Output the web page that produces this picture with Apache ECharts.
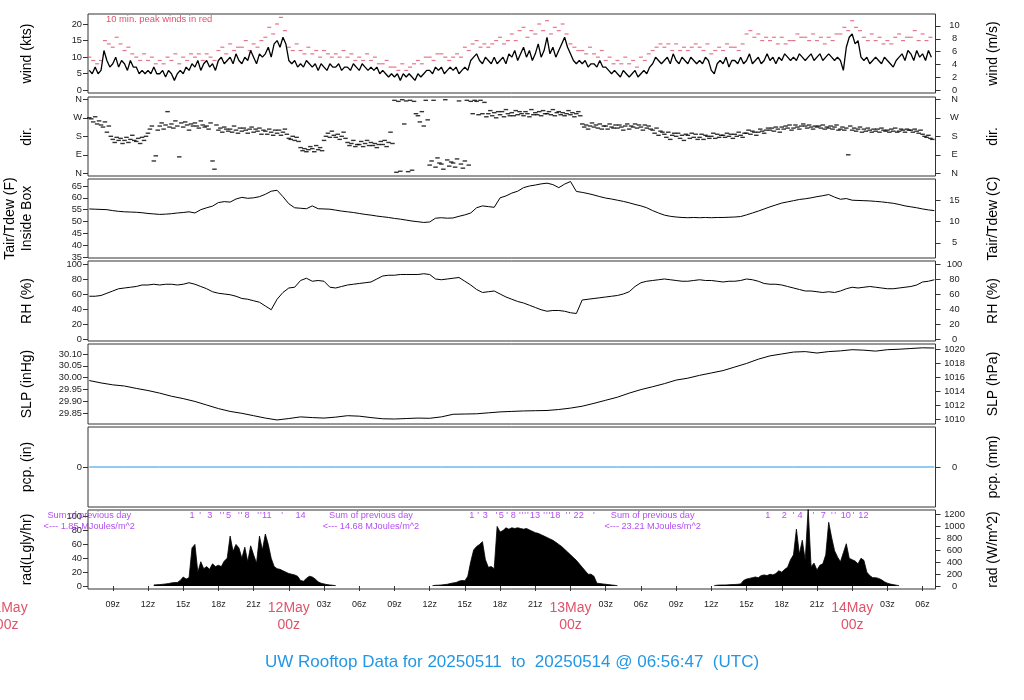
<!DOCTYPE html>
<html><head><meta charset="utf-8">
<script src="https://cdn.jsdelivr.net/npm/echarts@6/dist/echarts.min.js"></script>
<style>html,body{margin:0;padding:0;background:#fff}#c{width:1024px;height:700px}</style>
</head><body><div id="c"></div>
<script>
// ---- time axis: hours since 2025-05-11 00:00 UTC ----
const xMin = 6.89, xMax = 79.1;
const hourTicks = [9,12,15,18,21,24,27,30,33,36,39,42,45,48,51,54,57,60,63,66,69,72,75,78];
const dayNames = ['11May','12May','13May','14May'];

// ---- wind mean (kts), every 15 min from 07:00 May 11 ----
const windStart = 7, windStep = 0.25;
const windKts = [
6,5,7,5, 6,12,9,7, 8,10,7,9, 8,6,9,7, 7,5,6,5, 6,5,7,5, 5,6,4,6, 5,3,5,6,
5,7,6,8, 7,9,6,8, 9,7,8,6, 9,10,8,9, 10,8,11,9, 8,10,9,12, 10,8,11,10, 11,13,10,14,
15,13,16,14, 9,8,9,7, 8,7,9,8, 7,8,6,8, 7,6,8,7, 7,8,6,7, 7,6,8,7, 6,8,7,6,
7,6,7,5, 6,5,4,5, 4,5,3,5, 4,5,4,3, 5,4,5,6, 6,5,7,6, 7,5,6,7, 6,7,5,6,
7,6,9,10, 11,9,8,10, 9,8,10,8, 9,10,8,11, 10,12,9,11, 13,10,12,9, 11,14,10,12, 16,11,13,10,
12,14,16,13, 11,9,8,9, 8,9,7,8, 8,7,9,7, 7,6,5,6, 5,4,6,5, 4,5,6,4, 5,6,5,7,
8,10,9,8, 9,10,8,11, 9,8,10,9, 8,10,9,8, 9,8,10,9, 6,5,8,9, 8,10,7,9, 9,8,10,8,
9,11,8,9, 10,8,9,11, 9,10,8,10, 9,11,10,9, 10,9,11,10, 9,10,11,9, 10,11,9,10, 11,10,9,10,
9,6,13,16, 17,14,15,10, 9,10,8,9, 10,9,8,10, 9,8,7,9, 10,11,9,12, 11,9,12,10, 11,9,12,10
];

// ---- 10-min peak wind (kts), every 20 min from 07:00 May 11 ----
const peakStart = 7, peakStep = 1/3;
const peakKts = [
10,9,8, 9,15,14, 13,16,14, 12,13,11, 10,9,11, 9,10,8, 9,8,10, 9,11,8,
10,9,11, 10,11,9, 11,10,9, 12,13,11, 14,12,13, 13,15,12, 14,13,15, 16,19,17,
20,22,18, 13,12,14, 12,11,13, 11,12,10, 12,11,10, 11,10,12, 10,11,9, 10,9,11,
9,10,8, 8,9,7, 7,6,8, 6,7,8, 9,8,10, 10,9,11, 11,10,9, 10,11,10,
13,12,14, 15,13,14, 13,14,15, 16,14,15, 17,15,18, 19,16,18, 17,20,18, 21,17,19,
18,20,17, 14,13,12, 12,11,13, 11,10,12, 9,10,8, 9,8,10, 8,9,7, 10,9,11,
12,13,14, 13,14,12, 14,12,13, 12,13,14, 13,12,14, 11,12,13, 12,14,13, 13,12,14,
17,18,16, 17,15,16, 15,16,14, 16,14,15, 15,17,16, 16,15,17, 15,16,14, 16,15,17,
17,19,18, 21,19,18, 16,15,17, 15,16,14, 15,14,16, 17,15,16, 16,18,15, 17,15,16
];

// ---- wind direction (deg), every 10 min from 07:00 May 11 ----
const dirStart = 7, dirStep = 1/6;
const dirDeg = [
270,265,250,275,240,255, 235,225,250,200,230,180, 165,150,175,160,170,145, 160,175,150,165,185,160,
155,170,145,175,160,180, 195,215,230,60,85,210, 230,245,215,235,300,225, 240,220,255,230,80,245,
225,250,235,210,240,230, 245,230,220,255,235,225, 230,215,245,60,20,235, 210,220,200,225,215,205,
215,200,230,210,195,220, 205,220,210,195,215,225, 200,215,205,220,190,210, 205,190,215,200,185,210,
195,210,185,200,215,190, 170,165,180,160,175,155, 125,110,120,105,115,130, 120,105,135,115,125,110,
160,180,195,175,205,185, 175,190,165,180,200,170, 150,135,145,160,130,140, 140,155,130,145,160,135,
150,135,145,125,140,155, 140,160,130,150,200,145, 355,5,350,10,358,240, 352,8,355,15,350,290,
280,250,300,230,355,260, 40,60,355,30,75,50, 45,20,358,65,35,55, 50,30,70,352,45,25,
60,355,40,350,290,355, 350,285,355,290,345,275, 290,305,280,295,270,300, 285,300,275,310,290,280,
295,280,305,285,300,290, 280,300,290,275,310,285, 295,285,300,280,305,290, 290,300,285,310,280,295,
300,285,295,280,290,305, 285,295,275,290,300,280, 240,225,235,215,230,245, 225,235,220,240,215,230,
230,215,240,225,220,235, 220,235,225,210,230,240, 215,230,225,240,220,235, 225,210,235,220,230,215,
210,195,220,185,205,200, 190,175,200,165,185,195, 180,195,170,185,160,190, 185,170,195,175,190,165,
175,190,165,185,180,170, 180,195,170,190,175,185, 185,175,195,180,190,170, 190,180,200,185,175,195,
195,210,190,205,200,185, 200,215,205,195,210,220, 210,220,205,225,215,200, 225,215,230,220,235,210,
220,235,225,215,230,240, 230,220,235,225,215,230, 225,230,220,235,215,225, 220,230,215,225,235,210,
215,225,210,220,90,230, 210,220,205,215,225,200, 215,205,220,210,200,215, 205,215,200,220,210,205,
210,200,215,205,220,200, 205,215,210,200,215,210, 210,200,215,205,195,210, 190,180,175,185,170,165
];

// ---- inside-box air temperature (F), every 30 min from 07:00 May 11 ----
const tairStart = 7, tairStep = 0.5;
const tairF = [
55.3,55.2,55.1,55.0,54.6,54.3,54.1,54.0,53.9,53.7,53.4,53.2,53.0,53.1,53.3,53.6,53.8,54.1,53.6,55.0,
55.8,56.5,58.0,58.4,58.2,59.5,60.2,59.8,60.0,60.5,61.5,62.8,63.2,60.5,
57.5,55.8,55.6,55.4,56.6,55.4,55.3,55.2,54.8,54.4,54.1,53.8,53.4,53.0,52.7,52.3,52.0,51.7,51.3,51.0,
50.6,50.2,49.9,49.6,49.8,51.4,51.6,51.4,51.5,52.2,52.8,53.6,55.8,56.6,56.3,56.0,60.0,60.8,62.0,62.8,
64.3,65.0,65.4,65.9,66.2,65.6,64.3,65.8,
66.9,62.7,62.3,61.8,61.2,60.5,59.9,59.5,59.0,58.5,57.9,57.2,56.6,55.8,54.6,53.6,52.7,52.2,51.9,51.7,
51.6,51.7,51.6,51.7,51.6,51.7,51.7,51.8,51.9,52.1,52.8,53.6,54.4,55.3,56.2,57.0,57.8,58.3,58.8,59.3,
59.6,60.0,60.5,60.9,61.4,60.3,59.4,59.7,
59.0,58.9,58.8,58.7,58.5,58.3,58.0,57.7,57.2,56.6,56.2,55.8,55.3,54.9,54.6
];

// ---- relative humidity (%), every 30 min from 07:00 May 11 ----
const rhStart = 7, rhStep = 0.5;
const rhPct = [
57,57,58,61,64,67,68,69,70,72,72,73,72,73,73,72,73,75,73,70,67,63,61,60,59,57,54,53,51,49,44,39,53,62,
68,69,78,81,77,78,77,69,68,70,72,73,74,75,76,80,84,85,85,86,86,86,86,87,86,80,79,80,81,82,77,72,66,62,
63,64,60,56,53,50,48,45,42,39,37,38,38,37,
35,34,52,53,54,55,56,57,58,60,63,70,75,77,78,79,80,79,78,77,77,78,79,78,78,77,76,77,77,78,80,79,77,74,
73,73,72,70,68,66,64,64,63,62,63,62,64,67,
69,68,69,70,69,68,67,67,68,69,70,72,76,77,79
];

// ---- sea level pressure (inHg), hourly from 07:00 May 11 ----
const slpStart = 7, slpStep = 1;
const slpInHg = [
29.988,29.978,29.970,29.965,29.955,29.946,29.935,29.922,29.912,29.900,29.885,29.870,29.858,29.850,29.840,29.830,
29.822,29.828,29.835,29.832,29.830,29.834,29.840,29.838,29.832,29.827,29.826,29.828,29.830,29.829,29.835,29.846,
29.847,29.848,29.852,29.856,29.858,29.860,29.861,29.862,29.866,29.872,29.880,29.892,29.905,29.918,29.935,29.950,
29.962,29.975,29.990,29.998,30.010,30.020,30.030,30.045,30.060,30.078,30.092,30.100,30.108,30.110,30.104,30.110,
30.113,30.118,30.116,30.112,30.118,30.120,30.123,30.126,30.125
];

// ---- precipitation (in), every 3 h from 07:00 May 11 ----
const pcpStart = 7, pcpStep = 3;
const pcpIn = [0,0,0,0,0,0,0,0,0,0,0,0,0,0,0,0,0,0,0,0,0,0,0,0,0];

// ---- solar radiation (Langley/hr), every 15 min during daylight ----
const radStep = 0.25;
const rad1Start = 12.5;
const rad1 = [1.5,1.8,2,2.5,3,3.5,4.5,5,5,8,13,10,12,55,60,20,35,25,28,24,32,28,30,28,36,40,72,50,60,55,
40,56,35,58,45,33,72,52,75,60,40,28,25,24,22,20,18,17,16,14,8,7,11,14,13,10,6,4,3,2,1.5,1,0.5];
const rad2Start = 36.25;
const rad2 = [0.5,1,1.2,1.5,2,2.5,3.5,4.5,5,7,8,7.5,14,35,52,57,60,64,38,27,28,25,86,78,80,84,82,84,83,84,
83,82,83,81,79,77,76,74,72,70,68,66,63,60,57,53,49,45,41,37,32,27,22,17,17,14,4,3.5,3,2.5,2,1.5,1,0.5];
const rad3Start = 60.25;
const rad3 = [0.5,1.2,1.4,1.5,1.5,1.8,2,2.2,2.5,3,8,10,11,12,13,12,15,16,15,17,16,18,22,20,24,27,38,45,82,46,
66,37,112,28,33,23,30,32,45,92,70,51,42,35,48,61,40,38,36,32,40,37,20,15,12,12,11,9,6,4,2.8,2,1.2,0.5];

// ---- cumulative radiation markers (MJ/m^2) ----
const cumHours = [15.76,16.44,17.27,18.18,18.43,18.86,19.74,19.97,20.44,21.38,21.61,22.12,23.43,25.0,
  39.60,40.14,40.74,41.71,42.10,42.61,43.12,43.69,43.92,44.14,44.37,44.97,45.76,45.99,46.22,46.70,47.67,47.90,48.70,50.00,
  64.81,66.22,66.99,67.56,68.70,69.55,70.27,70.55,71.46,72.11,72.96];
const cumLabels = ['1',"'",'3',"'","'",'5',"'","'",'8',"'","'",'11',"'",'14',
  '1',"'",'3',"'",'5',"'",'8',"'","'","'","'",'13',"'","'","'",'18',"'","'",'22',"'",
  '1','2',"'",'4',"'",'7',"'","'",'10',"'",'12'];
const sumHours = [7, 31, 55];
const sumValues = ['1.85', '14.68', '23.21'];

// ---------------------------------------------------------------
const FONT = '"Liberation Sans", Arial, Helvetica, sans-serif';
const RED = '#DF536B', BLUE = '#2297E6', PURPLE = '#A020F0';
const pairs = (start, step, arr) => arr.map((v, i) => [start + i * step, v]);
const kt2ms = v => v / 1.943844;
const f2c = v => (v - 32) / 1.8;
const inhg2hpa = v => v * 33.8639;
const ly2wm2 = v => v * 11.622;
const ident = v => v;
const dirFmt = v => ({0:'N',90:'E',180:'S',270:'W',360:'N'})[Math.round(v)];

const panels = [
  {top:14, h:79, min:-0.81, max:23.02, lt:[0,5,10,15,20], rt:[0,2,4,6,8,10], conv:kt2ms, ln:'wind (kts)', rn:'wind (m/s)'},
  {top:97, h:79, min:-13.1, max:371.2, lt:[0,90,180,270,360], rt:[0,90,180,270,360], conv:ident, lf:dirFmt, rf:dirFmt, ln:'dir.', rn:'dir.'},
  {top:179, h:79, min:34.58, max:67.96, lt:[35,40,45,50,55,60,65], rt:[5,10,15], conv:f2c, ln:'Tair/Tdew (F)\nInside Box', rn:'Tair/Tdew (C)'},
  {top:261, h:80, min:-2.67, max:104, lt:[0,20,40,60,80,100], rt:[0,20,40,60,80,100], conv:ident, ln:'RH (%)', rn:'RH (%)'},
  {top:344, h:80, min:29.805, max:30.142, lt:[29.85,29.90,29.95,30.00,30.05,30.10], rt:[1010,1012,1014,1016,1018,1020], conv:inhg2hpa, lf:v=>v.toFixed(2), ln:'SLP (inHg)', rn:'SLP (hPa)'},
  {top:427, h:80, min:-1, max:1, lt:[0], rt:[0], conv:ident, ln:'pcp. (in)', rn:'pcp. (mm)'},
  {top:510, h:79, min:-4.33, max:109.7, lt:[0,20,40,60,80,100], rt:[0,200,400,600,800,1000,1200], conv:ly2wm2, ln:'rad(Lgly/hr)', rn:'rad (W/m^2)'}
];

const grid = [], xAxis = [], yAxis = [];
panels.forEach((p, i) => {
  grid.push({left:88, right:88.5, top:p.top, height:p.h, show:true, borderColor:'#333', borderWidth:1,
    containLabel:false, outerBoundsMode:'none'});
  const last = i === panels.length - 1;
  xAxis.push({
    type:'value', gridIndex:i, min:xMin, max:xMax, show:last,
    axisLine:{show:false}, splitLine:{show:false},
    axisTick:{show:last, customValues:hourTicks, length:5, lineStyle:{color:'#333'}},
    axisLabel:{show:last, customValues:hourTicks, margin:11, fontSize:9, color:'#222', fontFamily:FONT,
      formatter: v => {
        const hv = Math.round(v), hh = hv % 24;
        if (hh === 0) return '{d|' + dayNames[hv / 24] + '}\n{d|00z}';
        return (hh < 10 ? '0' : '') + hh + 'z';
      },
      rich:{d:{fontSize:14, lineHeight:17, color:RED, fontFamily:FONT}}}
  });
  const common = {type:'value', gridIndex:i, splitLine:{show:false}, axisLine:{show:false},
    nameLocation:'middle', nameRotate:90, nameTextStyle:{fontSize:14, color:'#000', fontFamily:FONT, lineHeight:17}};
  yAxis.push(Object.assign({}, common, {
    position:'left', min:p.min, max:p.max, name:p.ln, nameGap:52,
    axisTick:{show:true, customValues:p.lt, length:5, lineStyle:{color:'#333'}},
    axisLabel:{customValues:p.lt, margin:6, fontSize:9.3, color:'#222', fontFamily:FONT, formatter:p.lf || (v => String(v))}
  }));
  yAxis.push(Object.assign({}, common, {
    position:'right', min:p.conv(p.min), max:p.conv(p.max), name:p.rn, nameGap:49,
    axisTick:{show:true, customValues:p.rt, length:5, lineStyle:{color:'#333'}},
    axisLabel:{customValues:p.rt, margin:19, align:'center', fontSize:9.3, color:'#222', fontFamily:FONT, formatter:p.rf || (v => String(v))}
  }));
});

const lineS = (xi, data, color, w) => ({type:'line', xAxisIndex:xi, yAxisIndex:xi*2, data, showSymbol:false, symbol:'none',
  lineStyle:{color, width:w || 1}, silent:true});

const series = [
  lineS(0, pairs(windStart, windStep, windKts), '#000', 1.3),
  {type:'scatter', xAxisIndex:0, yAxisIndex:0, data:pairs(peakStart, peakStep, peakKts), symbol:'rect', symbolSize:[4,1.2], itemStyle:{color:RED}, silent:true},
  {type:'scatter', xAxisIndex:1, yAxisIndex:2, data:pairs(dirStart, dirStep, dirDeg), symbol:'rect', symbolSize:[4.5,1.4], itemStyle:{color:'#000'}, silent:true},
  lineS(2, pairs(tairStart, tairStep, tairF), '#000'),
  lineS(3, pairs(rhStart, rhStep, rhPct), '#000'),
  lineS(4, pairs(slpStart, slpStep, slpInHg), '#000'),
  lineS(5, pairs(pcpStart, pcpStep, pcpIn), BLUE)
];
[[rad1Start, rad1], [rad2Start, rad2], [rad3Start, rad3]].forEach(([s, arr]) => {
  const l = lineS(6, pairs(s, radStep, arr), '#000', 0.8);
  l.areaStyle = {color:'#000', opacity:1};
  series.push(l);
});
series.push({type:'scatter', xAxisIndex:6, yAxisIndex:12, symbolSize:0, silent:true,
  data:cumHours.map((h, i) => [h, 102.5, cumLabels[i]]),
  label:{show:true, position:'inside', formatter:p => p.data[2], color:PURPLE, fontSize:9.2, fontFamily:FONT}});
series.push({type:'scatter', xAxisIndex:6, yAxisIndex:12, symbolSize:0, silent:true,
  data:sumHours.map((h, i) => [h, 94.4, 'Sum of previous day\n<--- ' + sumValues[i] + ' MJoules/m^2']),
  label:{show:true, position:'inside', formatter:p => p.data[2], color:PURPLE, fontSize:9.2, lineHeight:11, fontFamily:FONT}});

const option = {
  animation:false,
  backgroundColor:'#fff',
  title:{text:'UW Rooftop Data for 20250511  to  20250514 @ 06:56:47  (UTC)', left:'center', top:649,
    textStyle:{fontSize:17, fontWeight:'normal', color:BLUE, fontFamily:FONT}},
  grid, xAxis, yAxis, series
};

const chart = echarts.init(document.getElementById('c'), null, {renderer:'canvas'});
chart.setOption(option);
const px0 = chart.convertToPixel({xAxisIndex:6}, 0);
chart.setOption({graphic:[
  {type:'text', left:106, top:15, silent:true, style:{text:'10 min. peak winds in red', fontSize:9.4, fill:RED, fontFamily:FONT}},
  {type:'text', x:px0, y:600, silent:true, style:{text:'11May\n00z', align:'center', verticalAlign:'top', fontSize:14, lineHeight:17, fill:RED, fontFamily:FONT}}
]});
</script>
</body></html>
